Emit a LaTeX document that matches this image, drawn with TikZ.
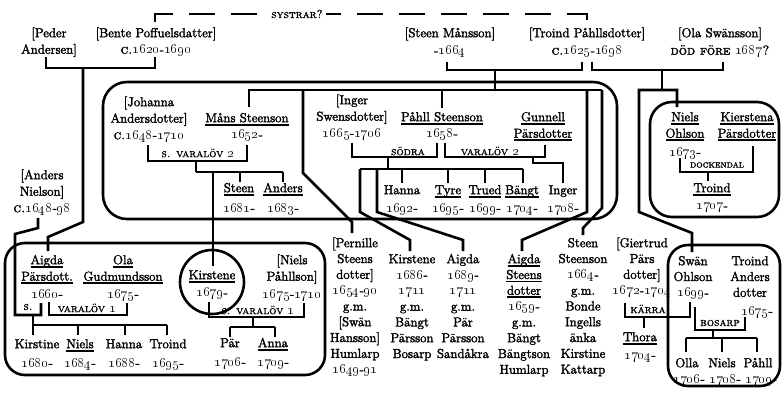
\documentclass[tikz,border=0pt]{standalone}
\usepackage{tikz}
\newsavebox\ulbox
\newcommand\ul[1]{\sbox\ulbox{#1}\rlap{\rule[-3.3pt]{\wd\ulbox}{1.7pt}}\usebox\ulbox}
\newcommand\fb{\special{pdf:literal direct 2 Tr 0.3 w}}
\newcommand\os[1]{{\fontsize{14}{16}\selectfont\oldstylenums{#1}}}
\newcommand\st{\rule{0pt}{10pt}}
\newcommand\fz{\fontsize{13}{16.5}\selectfont\fb}
\newcommand\fzb{\fontsize{13}{15.8}\selectfont\fb}
\newcommand\fzs{\fontsize{11.5}{12}\selectfont\scshape\special{pdf:literal direct 2 Tr 0.15 w}}
\tikzset{
  ln/.style={line width=2.6pt},
  bx/.style={line width=2.6pt, rounded corners=24pt},
  txt/.style={inner sep=0pt, align=center, anchor=north, font=\fz},
  lab/.style={inner sep=1pt, font=\fzs},
}
\begin{document}
\begin{tikzpicture}[x=1pt,y=-1pt]
\useasboundingbox (0,0) rectangle (782,392);
% ---------- boxes ----------
\draw[bx] (103,82) rectangle (617,219);
\draw[bx, rounded corners=22pt] (650,102) rectangle (779,217);
\draw[bx, rounded corners=20pt] (5,243) rectangle (325,375);
\draw[bx, rounded corners=20pt] (668,245) rectangle (780,386);
\draw[ln] (212,282) circle[radius=32pt];
% ---------- top generation ----------
\node[txt] (peder) at (49,27) {\st[Peder\\Andersen]};
\node[txt] (bente) at (156,27) {\st[Bente Poffuelsdatter]\\\textsc{c.}\os{1620}-\os{1690}};
\node[txt] (steenm) at (450,27) {\st[Steen Månsson]\\[1pt]-\os{1664}};
\node[txt] (troindp) at (587,27) {\st[Troind Påhllsdotter]\\[1pt]\textsc{c.}\os{1625}-\os{1698}};
\node[txt] (olas) at (720,27) {\st[Ola Swänsson]\\[1pt]\textsc{död före \os{1687}?}};
\draw[ln, dash pattern=on 26pt off 16pt] (155,22) -- (155,14) -- (587,14) -- (587,27);
\node[lab, fill=white, inner sep=3pt] (systrar) at (297,14) {systrar?};
\draw[ln] (46,57) -- (46,68) -- (155,68) -- (155,57);
\draw[ln] (83,68) -- (83,222) -- (48,237) -- (48,251);
\draw[ln] (447,62) -- (447,70) -- (582,70) -- (582,62);
\draw[ln] (495,70) -- (495,90);
\draw[ln] (249,107) -- (249,90) -- (602,90);
\draw[ln] (303,90) -- (303,173) -- (352,222) -- (352,233);
\draw[ln] (442,90) -- (442,108);
\draw[ln] (587,90) -- (587,212) -- (522,240) -- (522,251);
\draw[ln] (602,90) -- (602,208) -- (583,228) -- (583,235);
\draw[ln] (592,62) -- (592,70) -- (723,70) -- (723,62);
\draw[ln] (662,70) -- (662,90);
\draw[ln] (677,107) -- (677,90) -- (639,90) -- (639,212) -- (692,233) -- (692,252);
% ---------- Måns ----------
\node[txt] (johanna) at (149,96) {\st[Johanna\\Andersdotter]\\\textsc{c.}\os{1648}-\os{1710}};
\node[txt] (mans) at (247,112) {\st\ul{Måns Steenson}\\\os{1652}-};
\draw[ln] (148,145) -- (148,161) -- (247,161) -- (247,145);
\node[lab] (l1) at (198,153) {s. varalöv \os{2}};
\draw[ln] (196,161) -- (196,172);
\draw[ln] (196,172) -- (283,172);
\draw[ln] (213,172) -- (213,266);
\draw[ln] (240,172) -- (240,182);
\draw[ln] (283,172) -- (283,182);
\node[txt] (steen) at (239,182) {\st\ul{Steen}\\[3.5pt]\os{1681}-};
\node[txt] (anders) at (283,182) {\st\ul{Anders}\\[3.5pt]\os{1683}-};
% ---------- Påhll ----------
\node[txt] (inger) at (352,94) {\st[Inger\\Swensdotter]\\\os{1665}-\os{1706}};
\node[txt] (pahll) at (442,111) {\st\ul{Påhll Steenson}\\\os{1658}-};
\node[txt] (gunnell) at (543,111) {\st\ul{Gunnell}\\\ul{Pärsdotter}};
\draw[ln] (352,143) -- (352,157) -- (437,157) -- (437,143);
\node[lab] (l2) at (408,151) {södra};
\draw[ln] (445,143) -- (445,157) -- (545,157) -- (545,145);
\node[lab] (l3) at (490,151) {varalöv \os{2}};
\draw[ln] (388,157) -- (388,169);
\draw[ln] (360,169) -- (523,169);
\draw[ln] (360,169) -- (360,212) -- (410,240) -- (410,251);
\draw[ln] (377,169) -- (377,212) -- (463,240) -- (463,251);
\draw[ln] (402,169) -- (402,183);
\draw[ln] (448,169) -- (448,183);
\draw[ln] (485,169) -- (485,183);
\draw[ln] (523,169) -- (523,183);
\draw[ln] (533,157) -- (533,163) -- (563,163) -- (563,183);
\node[txt] (hanna) at (402,184) {\st Hanna\\[1.5pt]\os{1692}-};
\node[txt] (tyre) at (448,184) {\st\ul{Tyre}\\[1.5pt]\os{1695}-};
\node[txt] (trued) at (485,184) {\st\ul{Trued}\\[1.5pt]\os{1699}-};
\node[txt] (bangt) at (522,184) {\st\ul{Bängt}\\[1.5pt]\os{1704}-};
\node[txt] (inger2) at (563,184) {\st Inger\\[1.5pt]\os{1708}-};
% ---------- Niels Ohlson ----------
\node[txt] (niels) at (685,111) {\st\ul{Niels}\\\ul{Ohlson}\\[2pt]\os{1673}-};
\node[txt] (kierstena) at (747,111) {\st\ul{Kierstena}\\\ul{Pärsdotter}};
\draw[ln] (680,158) -- (680,172) -- (753,172) -- (753,146);
\node[lab, font=\fontsize{10}{10}\selectfont\scshape\special{pdf:literal direct 2 Tr 0.15 w}] (l4) at (717,165) {dockendal};
\draw[ln] (708,172) -- (708,181);
\node[txt] (troind2) at (712,182) {\st\ul{Troind}\\[1pt]\os{1707}-};
% ---------- lower left ----------
\node[txt] (andersn) at (42,169) {\st[Anders\\Nielson]\\\textsc{c.}\os{1648}-\os{98}};
\draw[ln] (38,218) -- (38,228) -- (15,234) -- (15,315) -- (41,315) -- (41,303);
\node[lab] (l5) at (28,307) {s.};
\node[txt] (aigda) at (47,254) {\st\ul{Aigda}\\\ul{Pärsdott.}\\[1pt]\os{1660}-};
\node[txt] (ola) at (123,254) {\st\ul{Ola}\\\ul{Gudmundsson}\\[1pt]\os{1675}-};
\draw[ln] (49,302) -- (49,315) -- (127,315) -- (127,303);
\node[lab] (l6) at (87,308) {varalöv \os{1}};
\draw[ln] (33,315) -- (33,335);
\draw[ln] (33,325) -- (167,325);
\draw[ln] (78,325) -- (78,335);
\draw[ln] (125,325) -- (125,335);
\draw[ln] (167,325) -- (167,335);
\node[txt] (kirstine) at (37,338) {\st Kirstine\\[2.5pt]\os{1680}-};
\node[txt] (niels2) at (80,338) {\st\ul{Niels}\\[2.5pt]\os{1684}-};
\node[txt] (hanna2) at (124,338) {\st Hanna\\[2.5pt]\os{1688}-};
\node[txt] (troind4) at (168,338) {\st Troind\\[2.5pt]\os{1695}-};
\node[txt] (kirstene) at (212,269) {\st\ul{Kirstene}\\[1pt]\os{1679}-};
\node[txt] (nielsp) at (292,254) {\st[Niels\\Påhllson]\\[1pt]\os{1675}-\os{1710}};
\draw[ln] (209,302) -- (209,317) -- (304,317) -- (304,303);
\node[lab] (l7) at (258,310) {s. varalöv \os{1}};
\draw[ln] (253,317) -- (253,327);
\draw[ln] (230,327) -- (275,327);
\draw[ln] (230,327) -- (230,337);
\draw[ln] (275,327) -- (275,337);
\node[txt] (par) at (230,337) {\st Pär\\[2.5pt]\os{1706}-};
\node[txt] (anna) at (273,337) {\st\ul{Anna}\\[2.5pt]\os{1709}-};
% ---------- bottom columns ----------
\node[txt, font=\fzb] (pernille) at (355,237) {\st[Pernille\\Steens\\dotter]\\\os{1654}-\os{90}\\g.m.\\{}[Swän\\Hansson]\\Humlarp\\\os{1649}-\os{91}};
\node[txt, font=\fzb] (kirstene2) at (412,253) {\st Kirstene\\\os{1686}-\\\os{1711}\\g.m.\\Bängt\\Pärsson\\Bosarp};
\node[txt, font=\fzb] (aigda2) at (463,253) {\st Aigda\\\os{1689}-\\\os{1711}\\g.m.\\Pär\\Pärsson\\Sandåkra};
\node[txt, font=\fzb] (aigdas) at (524,253) {\st\ul{Aigda}\\\ul{Steens}\\\ul{dotter}\\\os{1659}-\\g.m.\\Bängt\\Bängtson\\Humlarp};
\node[txt, font=\fzb] (steens) at (583,237) {\st Steen\\Steenson\\\os{1664}-\\g.m.\\Bonde\\Ingells\\änka\\Kirstine\\Kattarp};
\node[txt, font=\fzb] (giertrud) at (642,237) {\st[Giertrud\\Pärs\\dotter]\\\os{1672}-\os{1704}};
\draw[ln] (625,303) -- (625,317) -- (690,317) -- (690,302);
\node[lab] (l8) at (648,309) {kärra};
\draw[ln] (644,317) -- (644,328);
\node[txt] (thora) at (640,331) {\st\ul{Thora}\\[1.5pt]\os{1704}-};
% ---------- Swän box ----------
\node[txt, font=\fzb] (swan) at (693,255) {\st Swän\\Ohlson\\\os{1699}-};
\node[txt, font=\fzb] (troind3) at (750,255) {\st Troind\\Anders\\dotter};
\node[txt] (t3date) at (757,305) {\st\os{1675}-};
\draw[ln] (695,307) -- (695,330) -- (745,330) -- (745,317);
\node[lab] (l9) at (720,323) {bosarp};
\draw[ln] (713,330) -- (713,338);
\draw[ln] (686,338) -- (757,338);
\draw[ln] (686,338) -- (686,352);
\draw[ln] (722,338) -- (722,352);
\draw[ln] (757,338) -- (757,352);
\node[txt] (olla) at (687,357) {\st Olla};
\node[txt] (niels3) at (722,357) {\st Niels};
\node[txt] (pahll3) at (758,357) {\st Påhll};
\node[txt] (d1) at (689,373) {\st\os{1706}-};
\node[txt] (d2) at (725,373) {\st\os{1708}-};
\node[txt] (d3) at (761,373) {\st\os{1709}-};
\end{tikzpicture}
\end{document}
